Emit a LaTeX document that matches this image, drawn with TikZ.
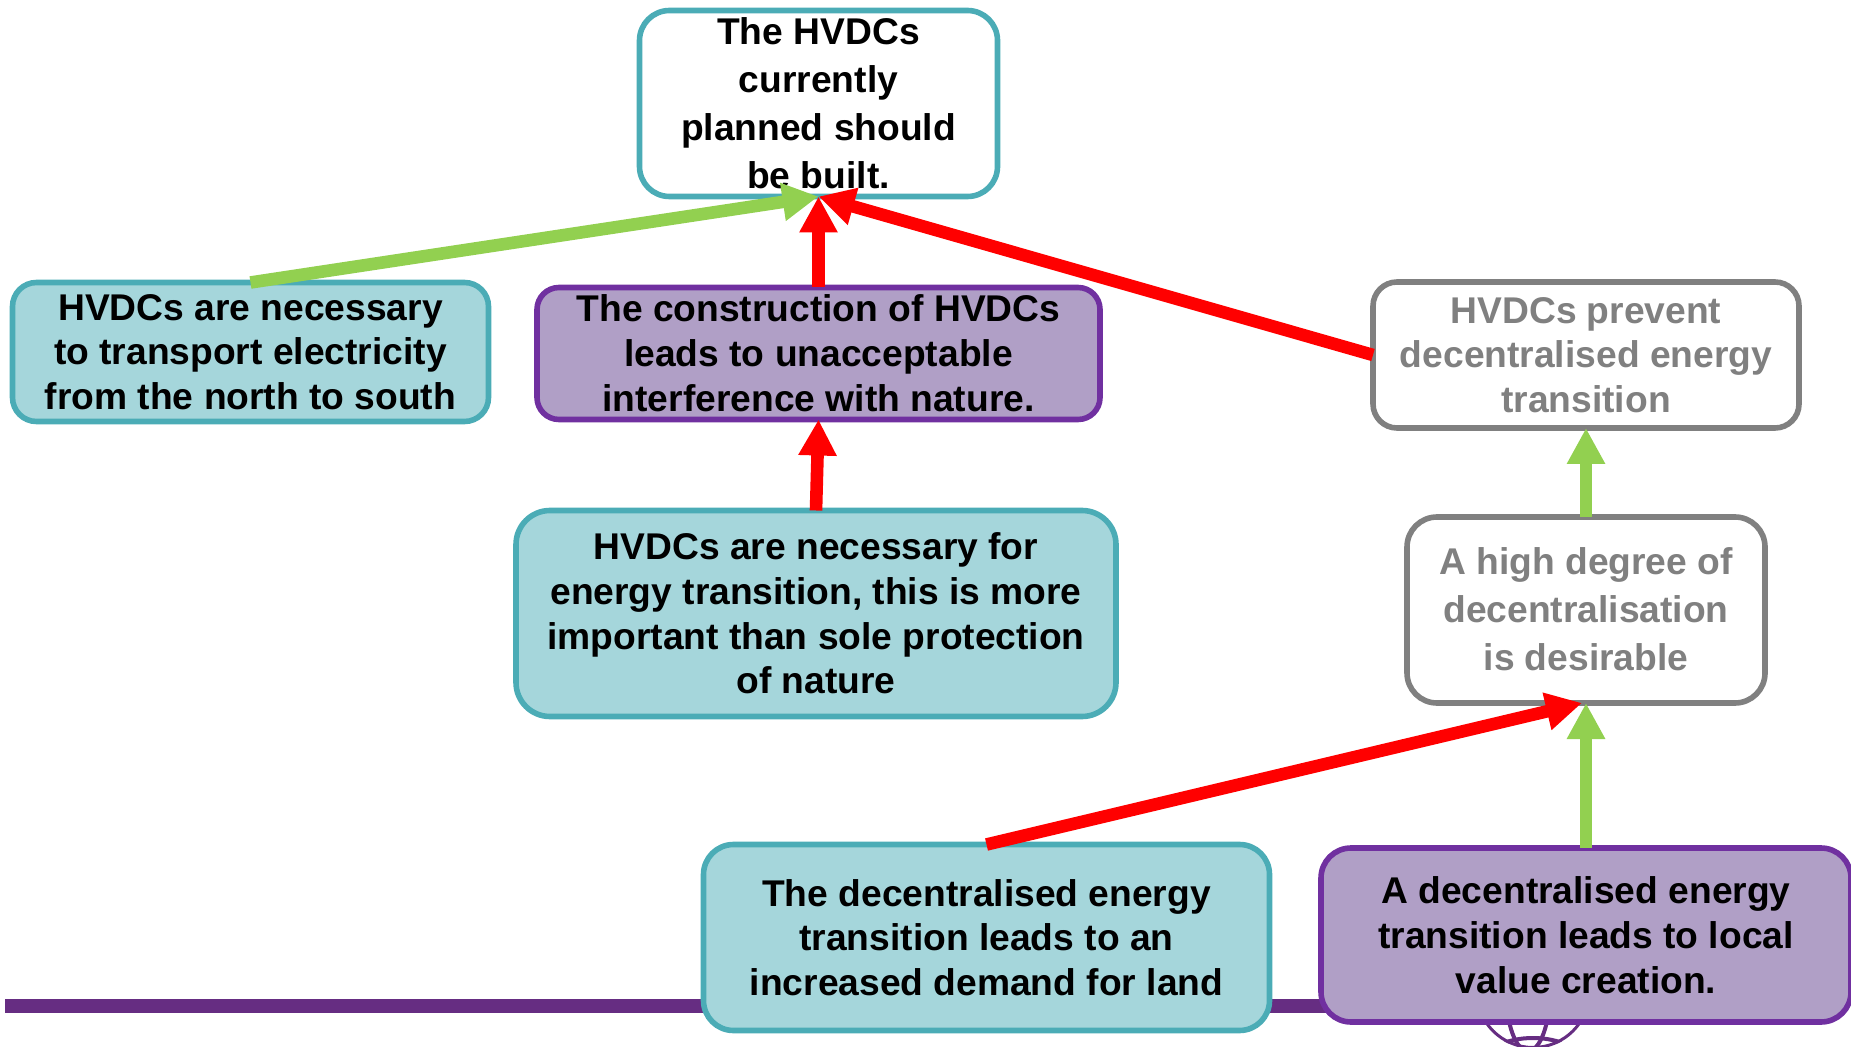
\documentclass[tikz,border=0pt]{standalone}
\usepackage{fontspec}
\setmainfont{Liberation Sans}
\usetikzlibrary{arrows.meta}
\definecolor{tealline}{HTML}{4BACB6}
\definecolor{tealfill}{HTML}{A5D6DB}
\definecolor{purpline}{HTML}{7030A0}
\definecolor{purpfill}{HTML}{B09FC6}
\definecolor{barpurple}{HTML}{662D82}
\definecolor{greyline}{HTML}{808080}
\definecolor{arrowgreen}{HTML}{92D050}
\definecolor{arrowred}{HTML}{FF0000}
\tikzset{
  x=0.5pt,y=-0.5pt,
  box/.style={draw,line width=2.8pt,outer sep=0pt,inner sep=0pt,align=center,font=\fontsize{18.6}{22.4}\selectfont\bfseries,text=black},
  lowered/.style={execute at begin node={\leavevmode\rule{0pt}{15.8pt}}},
  tealbox/.style={box,lowered,draw=tealline,fill=tealfill},
  purpbox/.style={box,lowered,draw=purpline,fill=purpfill},
  whitebox/.style={box,draw=tealline,fill=white},
  greybox/.style={box,draw=greyline,fill=white,text=greyline},
  wide/.style={font=\fontsize{18.6}{24}\selectfont\bfseries},
  link/.style={line width=6.3pt,-{Triangle[length=18pt,width=18pt]}},
  pro/.style={link,draw=arrowgreen,color=arrowgreen},
  con/.style={link,draw=arrowred,color=arrowred},
}
\begin{document}
\begin{tikzpicture}
\useasboundingbox (0,0) rectangle (1851,1047);
% backdrop: bar and globe
\fill[barpurple] (5,999) rectangle (1400,1013);
\begin{scope}
\clip (1533,991) circle (58);
\draw[barpurple,line width=2pt] (1533,991) circle (57);
\draw[barpurple,line width=2pt] (1528,991) ellipse (22 and 60);
\draw[barpurple,line width=2pt] (1533,1062) ellipse (48 and 24);
\end{scope}
% boxes
\node[whitebox,wide,rounded corners=15pt,minimum width=179pt,minimum height=93pt] (claim) at (818.5,103.5) {The HVDCs\\currently\\planned should\\be built.};
\node[tealbox,rounded corners=12pt,minimum width=238pt,minimum height=69.5pt] (north) at (250.5,352) {HVDCs are necessary\\to transport electricity\\from the north to south};
\node[purpbox,rounded corners=11pt,minimum width=281.5pt,minimum height=66pt] (nature) at (818.5,353.5) {The construction of HVDCs\\leads to unacceptable\\interference with nature.};
\node[greybox,lowered,rounded corners=12pt,minimum width=213pt,minimum height=73pt] (prevent) at (1586,355) {HVDCs prevent\\decentralised energy\\transition};
\node[tealbox,rounded corners=17pt,minimum width=300pt,minimum height=103pt] (necessary) at (816,613.5) {HVDCs are necessary for\\energy transition, this is more\\important than sole protection\\of nature};
\node[greybox,wide,rounded corners=15pt,minimum width=179pt,minimum height=93pt] (degree) at (1586,610) {A high degree of\\decentralisation\\is desirable\rule[-1.2pt]{0pt}{0pt}};
\node[tealbox,rounded corners=15pt,minimum width=283pt,minimum height=93pt] (land) at (986.5,937.5) {The decentralised energy\\transition leads to an\\increased demand for land};
\node[purpbox,rounded corners=15pt,minimum width=265pt,minimum height=87pt] (value) at (1586,935) {A decentralised energy\\transition leads to local\\value creation.};
% connectors
\draw[pro] (north.north) -- (claim.south);
\draw[con] (nature.north) -- (claim.south);
\draw[con] (prevent.west) -- (claim.south);
\draw[con] (necessary.north) -- (nature.south);
\draw[pro] (degree.north) -- (prevent.south);
\draw[con] (land.north) -- ([xshift=-2pt]degree.south);
\draw[pro] (value.north) -- (degree.south);
\end{tikzpicture}
\end{document}
